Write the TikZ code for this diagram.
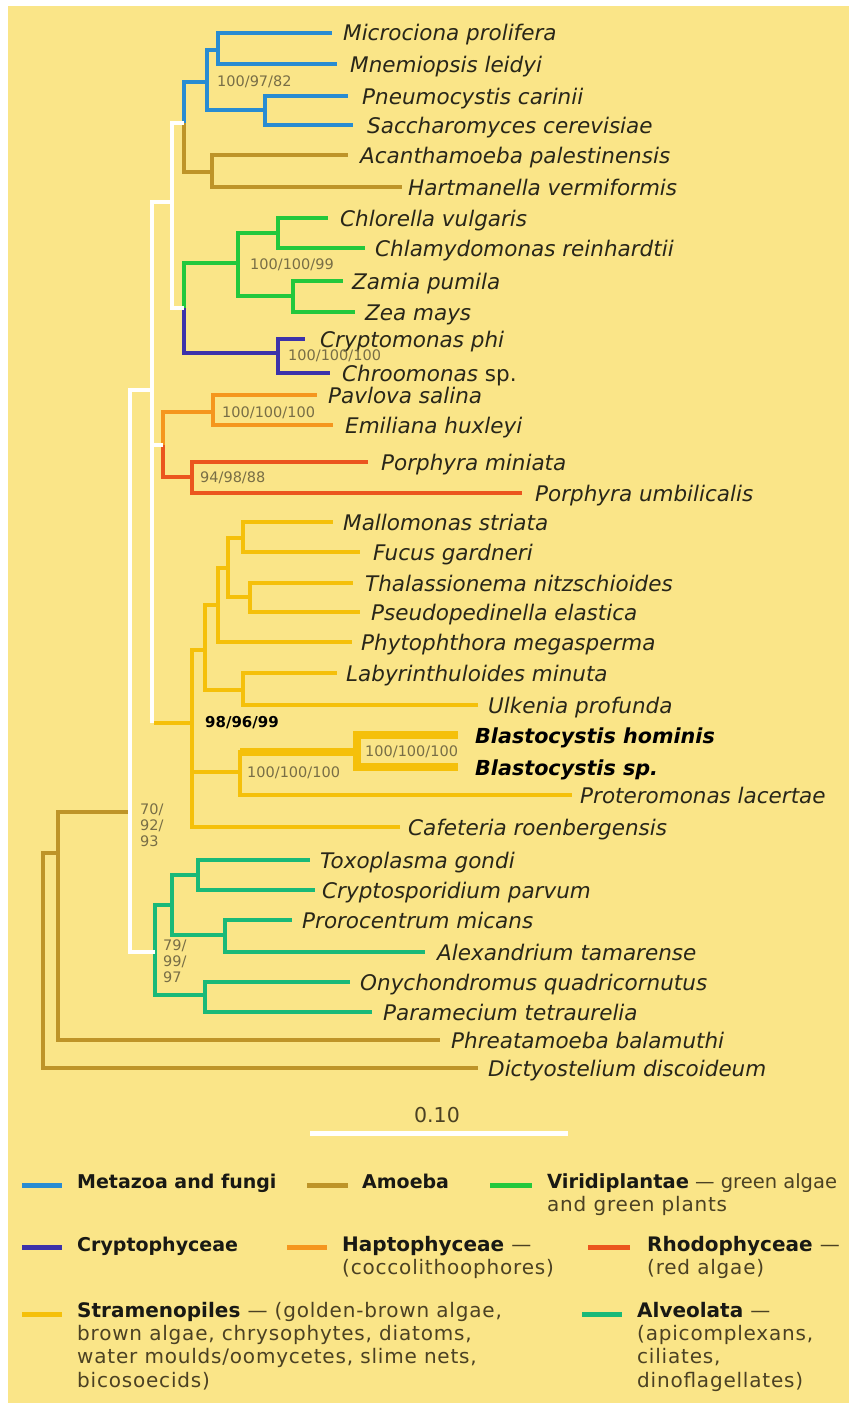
\documentclass[tikz,border=0pt]{standalone}
\usepackage{fontspec}
\setmainfont{DejaVu Sans}
\newfontfamily\legfont[LetterSpace=4]{DejaVu Sans}
\definecolor{bgy}{RGB}{250,229,136}
\definecolor{cMet}{RGB}{40,140,210}
\definecolor{cAm}{RGB}{190,148,40}
\definecolor{cVir}{RGB}{35,200,60}
\definecolor{cCry}{RGB}{60,50,170}
\definecolor{cHap}{RGB}{245,150,30}
\definecolor{cRho}{RGB}{235,85,30}
\definecolor{cStr}{RGB}{245,192,10}
\definecolor{cAlv}{RGB}{25,185,120}
\definecolor{txt}{RGB}{40,38,25}
\definecolor{bst}{RGB}{120,110,70}
\definecolor{legtxt}{RGB}{75,65,35}
\definecolor{legbold}{RGB}{25,25,20}
\newcommand\legbf[1]{{\normalfont\bfseries\color{legbold}#1}}
\newcommand\lf[5]{\coordinate (#1) at (#2,#3); \node[leaf] (#1t) at (#4,#3+8) {#5};}
\begin{document}
\begin{tikzpicture}[x=1pt,y=-1pt,
  br/.style={line width=4pt,line join=miter},
  met/.style={br,draw=cMet},
  amb/.style={br,draw=cAm},
  vir/.style={br,draw=cVir},
  cry/.style={br,draw=cCry},
  hap/.style={br,draw=cHap},
  rho/.style={br,draw=cRho},
  stra/.style={br,draw=cStr},
  alv/.style={br,draw=cAlv},
  wht/.style={br,draw=white},
  leaf/.style={anchor=base west,inner sep=0pt,text=txt,font=\fontsize{21.5}{24}\selectfont\itshape},
  leafb/.style={leaf,text=black,font=\fontsize{20.7}{24}\selectfont\bfseries\itshape},
  boot/.style={anchor=west,inner sep=0pt,text=bst,font=\fontsize{14.5}{16}\selectfont},
  boot3/.style={anchor=north west,inner sep=0pt,text=bst,align=left,font=\fontsize{14.5}{16}\selectfont},
  sw/.style={line width=5pt},
  lg/.style={anchor=base west,inner sep=0pt,text=legtxt,font=\fontsize{20}{23}\selectfont\legfont},
  lgb/.style={anchor=base west,inner sep=0pt,text=legbold,font=\fontsize{19}{23}\selectfont\bfseries},
]
\useasboundingbox (0,0) rectangle (849,1405);
\fill[white] (0,0) rectangle (849,1405);
\fill[bgy] (8,6) rectangle (849,1403);

% ---------- Metazoa and fungi
\coordinate (nMet) at (207,82);
\coordinate (nMM) at (218,50);
\coordinate (nPS) at (265,110);
\lf{m1}{332}{33}{343}{Microciona prolifera}
\lf{m2}{337}{64}{350}{Mnemiopsis leidyi}
\lf{m3}{348}{96}{362}{Pneumocystis carinii}
\lf{m4}{353}{125}{367}{Saccharomyces cerevisiae}
\draw[met] (nMM) |- (m1) (nMM) |- (m2) (nPS) |- (m3) (nPS) |- (m4) (nMet) |- (nMM) (nMet) |- (nPS);

% ---------- Amoeba (top)
\coordinate (nMetAm) at (184,123);
\coordinate (nAm) at (212,172);
\lf{a1}{348}{155}{360}{Acanthamoeba palestinensis}
\lf{a2}{402}{187}{408}{Hartmanella vermiformis}
\draw[amb] (nAm) |- (a1) (nAm) |- (a2) (nMetAm) |- (nAm);
\draw[met] (nMetAm) |- (nMet);

% ---------- Viridiplantae
\coordinate (nGC) at (184,308);
\coordinate (nG) at (238,263);
\coordinate (nG1) at (278,233);
\coordinate (nG2) at (293,296);
\lf{g1}{328}{218}{340}{Chlorella vulgaris}
\lf{g2}{365}{248}{375}{Chlamydomonas reinhardtii}
\lf{g3}{343}{281}{352}{Zamia pumila}
\lf{g4}{355}{312}{365}{Zea mays}
\draw[vir] (nG1) |- (g1) (nG1) |- (g2) (nG2) |- (g3) (nG2) |- (g4) (nG) |- (nG1) (nG) |- (nG2) (nGC) |- (nG);

% ---------- Cryptophyceae
\coordinate (nCr) at (278,353);
\lf{c1}{305}{339}{320}{Cryptomonas phi}
\lf{c2}{330}{373}{342}{Chroomonas {\upshape sp.}}
\draw[cry] (nCr) |- (c1) (nCr) |- (c2) (nGC) |- (nCr);

% ---------- white node A
\coordinate (nA) at (172,202);
\draw[wht] (nA) |- (nMetAm) (nA) |- (nGC);

% ---------- Haptophyceae / Rhodophyceae
\coordinate (nHR) at (163,445);
\coordinate (nHap) at (213,412);
\coordinate (nRh) at (192,477);
\lf{h1}{317}{395}{328}{Pavlova salina}
\lf{h2}{333}{425}{345}{Emiliana huxleyi}
\lf{r1}{368}{462}{381}{Porphyra miniata}
\lf{r2}{522}{493}{535}{Porphyra umbilicalis}
\draw[hap] (nHap) |- (h1) (nHap) |- (h2) (nHR) |- (nHap);
\draw[rho] (nRh) |- (r1) (nRh) |- (r2) (nHR) |- (nRh);

% ---------- Stramenopiles
\coordinate (nStr) at (192,723);
\coordinate (nS1) at (205,650);
\coordinate (nS2) at (218,605);
\coordinate (nS3) at (228,568);
\coordinate (nMF) at (243,538);
\coordinate (nTP) at (250,597);
\coordinate (nLab) at (243,690);
\coordinate (nBl) at (240,772);
\coordinate (nBB) at (357,752);
\lf{s1}{333}{522}{343}{Mallomonas striata}
\lf{s2}{360}{552}{373}{Fucus gardneri}
\lf{s3}{353}{583}{365}{Thalassionema nitzschioides}
\lf{s4}{360}{612}{371}{Pseudopedinella elastica}
\lf{s5}{352}{642}{361}{Phytophthora megasperma}
\lf{s6}{337}{673}{346}{Labyrinthuloides minuta}
\lf{s7}{478}{705}{488}{Ulkenia profunda}
\coordinate (b1) at (458,735);
\node[leafb] (b1t) at (475,743) {Blastocystis hominis};
\coordinate (b2) at (458,767);
\node[leafb] (b2t) at (475,775) {Blastocystis sp.};
\lf{s8}{572}{795}{580}{Proteromonas lacertae}
\lf{s9}{400}{827}{408}{Cafeteria roenbergensis}
\draw[stra] (nMF) |- (s1) (nMF) |- (s2) (nTP) |- (s3) (nTP) |- (s4)
  (nS3) |- (nMF) (nS3) |- (nTP) (nS2) |- (nS3) (nS2) |- (s5) (nS1) |- (nS2)
  (nLab) |- (s6) (nLab) |- (s7) (nS1) |- (nLab) (nStr) |- (nS1) (nStr) |- (nBl)
  (nStr) |- (s9) (nBl) |- (s8) (nBl) |- (nBB);
\draw[stra,line width=8pt] (nBB) |- (b1) (nBB) |- (b2) (nBB) -- (nBB -| nBl);

% ---------- white node B
\coordinate (nB) at (152,390);
\draw[wht] (nB) |- (nA) (nB) |- (nHR) (nB) -- (nB |- nStr);
\draw[stra] ([xshift=2pt]nStr -| nB) -- (nStr);

% ---------- Alveolata
\coordinate (nAl) at (155,952);
\coordinate (nAl1) at (172,905);
\coordinate (nTC) at (198,875);
\coordinate (nPA) at (225,935);
\coordinate (nOP) at (205,995);
\lf{v1}{310}{860}{320}{Toxoplasma gondi}
\lf{v2}{315}{890}{322}{Cryptosporidium parvum}
\lf{v3}{292}{920}{302}{Prorocentrum micans}
\lf{v4}{425}{952}{437}{Alexandrium tamarense}
\lf{v5}{350}{982}{360}{Onychondromus quadricornutus}
\lf{v6}{372}{1012}{383}{Paramecium tetraurelia}
\draw[alv] (nTC) |- (v1) (nTC) |- (v2) (nPA) |- (v3) (nPA) |- (v4)
  (nAl1) |- (nTC) (nAl1) |- (nPA) (nOP) |- (v5) (nOP) |- (v6)
  (nAl) |- (nAl1) (nAl) |- (nOP);

% ---------- outer amoebae and white node C
\coordinate (nC) at (130,812);
\coordinate (nPh) at (58,853);
\coordinate (nR) at (43,960);
\lf{p1}{440}{1040}{451}{Phreatamoeba balamuthi}
\lf{p2}{478}{1068}{488}{Dictyostelium discoideum}
\draw[amb] (nPh) |- (nC) (nPh) |- (p1) (nR) |- (nPh) (nR) |- (p2);
\draw[wht] (nC) |- (nB) (nC) |- (nAl);

% ---------- bootstrap values
\node[boot] (bs1) at (217,82) {100/97/82};
\node[boot] (bs2) at (250,265) {100/100/99};
\node[boot] (bs3) at (288,356) {100/100/100};
\node[boot] (bs4) at (222,413) {100/100/100};
\node[boot] (bs5) at (200,478) {94/98/88};
\node[boot,text=black,font=\fontsize{15}{16}\selectfont\bfseries] (bs6) at (205,723) {98/96/99};
\node[boot] (bs7) at (247,773) {100/100/100};
\node[boot] (bs8) at (365,752) {100/100/100};
\node[boot3] (bs9) at (140,804) {70/\\92/\\93};
\node[boot3] (bs10) at (163,940) {79/\\99/\\97};

% ---------- scale bar
\coordinate (sbA) at (310,1133);
\coordinate (sbB) at (568,1133);
\draw[white,line width=5pt] (sbA) -- (sbB);
\node[anchor=base,inner sep=0pt,text=legtxt,font=\fontsize{20.5}{23}\selectfont] (sbl) at (437,1122) {0.10};

% ---------- legend
\coordinate (k1a) at (22,1185); \coordinate (k1b) at (62,1185);
\coordinate (k2a) at (307,1185); \coordinate (k2b) at (348,1185);
\coordinate (k3a) at (490,1185); \coordinate (k3b) at (532,1185);
\coordinate (k4a) at (22,1247); \coordinate (k4b) at (62,1247);
\coordinate (k5a) at (287,1247); \coordinate (k5b) at (327,1247);
\coordinate (k6a) at (588,1247); \coordinate (k6b) at (630,1247);
\coordinate (k7a) at (22,1314); \coordinate (k7b) at (62,1314);
\coordinate (k8a) at (582,1314); \coordinate (k8b) at (622,1314);
\draw[sw,cMet] (k1a) -- (k1b);
\draw[sw,cAm] (k2a) -- (k2b);
\draw[sw,cVir] (k3a) -- (k3b);
\draw[sw,cCry] (k4a) -- (k4b);
\draw[sw,cHap] (k5a) -- (k5b);
\draw[sw,cRho] (k6a) -- (k6b);
\draw[sw,cStr] (k7a) -- (k7b);
\draw[sw,cAlv] (k8a) -- (k8b);

\node[lgb] (L1) at (77,1188) {Metazoa and fungi};
\node[lgb] (L2) at (362,1188) {Amoeba};
\node[lg,font=\fontsize{19.5}{23}\selectfont] (L3) at (547,1188) {\legbf{Viridiplantae} — green algae};
\node[lg] (L3b) at (547,1211) {and green plants};
\node[lgb] (L4) at (77,1251) {Cryptophyceae};
\node[lg] (L5) at (342,1251) {\legbf{Haptophyceae} —};
\node[lg] (L5b) at (342,1274) {(coccolithoophores)};
\node[lg] (L6) at (647,1251) {\legbf{Rhodophyceae} —};
\node[lg] (L6b) at (647,1274) {(red algae)};
\node[lg] (L7) at (77,1317) {\legbf{Stramenopiles} — (golden-brown algae,};
\node[lg] (L7b) at (77,1340) {brown algae, chrysophytes, diatoms,};
\node[lg] (L7c) at (77,1363) {water moulds/oomycetes, slime nets,};
\node[lg] (L7d) at (77,1387) {bicosoecids)};
\node[lg] (L8) at (637,1317) {\legbf{Alveolata} —};
\node[lg] (L8b) at (637,1340) {(apicomplexans,};
\node[lg] (L8c) at (637,1363) {ciliates,};
\node[lg] (L8d) at (637,1387) {dinoflagellates)};
\end{tikzpicture}
\end{document}
